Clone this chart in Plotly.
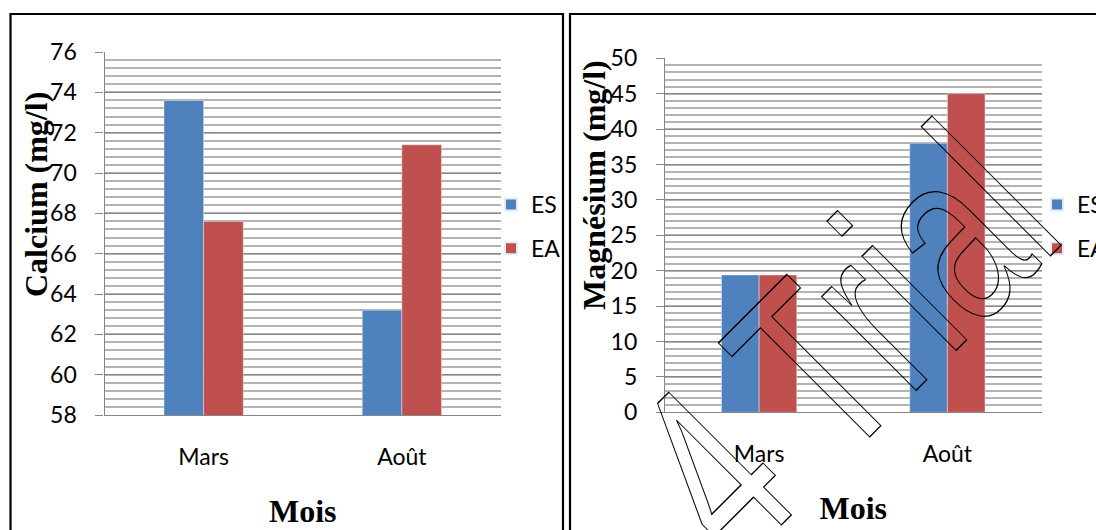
import plotly.graph_objects as go

# Monthly concentrations for the two sampling points
mois = ["Mars", "Août"]
calcium_es = [73.6, 63.2]
calcium_ea = [67.6, 71.4]
magnesium_es = [19.4, 38.0]
magnesium_ea = [19.4, 45.0]

calcium_ticks = [58, 60, 62, 64, 66, 68, 70, 72, 74, 76]
magnesium_ticks = [0, 5, 10, 15, 20, 25, 30, 35, 40, 45, 50]

BLUE = "#4F81BD"
RED = "#C0504D"
GRID_MAJOR = "#868686"
GRID_MINOR = "#b3b3b3"
TICK_FONT = dict(family="Lato", size=23, color="#000000")
TITLE_FONT = dict(family="Liberation Serif", size=32, color="#000000")

W, H = 1096, 530


def px_x(v):
    return v / W


def px_y(v):
    return 1 - v / H


fig = go.Figure()

fig.add_trace(go.Bar(x=mois, y=calcium_es, name="ES", marker_color=BLUE,
                     xaxis="x", yaxis="y", legend="legend", legendgroup="ca_es"))
fig.add_trace(go.Bar(x=mois, y=calcium_ea, name="EA", marker_color=RED,
                     xaxis="x", yaxis="y", legend="legend", legendgroup="ca_ea"))
fig.add_trace(go.Bar(x=mois, y=magnesium_es, name="ES", marker_color=BLUE,
                     xaxis="x2", yaxis="y2", legend="legend2", legendgroup="mg_es"))
fig.add_trace(go.Bar(x=mois, y=magnesium_ea, name="EA", marker_color=RED,
                     xaxis="x2", yaxis="y2", legend="legend2", legendgroup="mg_ea"))


def x_axis(domain, anchor):
    return dict(
        domain=domain, anchor=anchor, type="category", automargin=False,
        showline=True, linecolor=GRID_MAJOR, linewidth=1.3,
        ticks="", showgrid=False, zeroline=False,
        tickfont=TICK_FONT, ticklabelstandoff=21,
        title=dict(text="<b>Mois</b>", font=TITLE_FONT, standoff=30),
    )


def y_axis(domain, anchor, rng, minor_step, ticks):
    return dict(
        domain=domain, anchor=anchor, range=rng, automargin=False,
        tickvals=ticks, ticktext=[str(t) for t in ticks],
        showline=True, linecolor=GRID_MAJOR, linewidth=1.3,
        ticks="outside", ticklen=8, tickcolor=GRID_MAJOR, tickwidth=1.3,
        showgrid=True, gridcolor=GRID_MAJOR, gridwidth=1.3, zeroline=False,
        minor=dict(dtick=minor_step, tick0=rng[0], showgrid=True,
                   gridcolor=GRID_MINOR, gridwidth=1.7, ticks=""),
        tickfont=TICK_FONT, ticklabelstandoff=14,
    )


legend_common = dict(
    font=TICK_FONT, bgcolor="rgba(0,0,0,0)", borderwidth=0,
    xanchor="left", yanchor="top", tracegroupgap=11, itemsizing="constant",
)

fig.update_layout(
    width=W, height=H,
    margin=dict(l=0, r=0, t=0, b=0, autoexpand=False),
    paper_bgcolor="white", plot_bgcolor="white",
    barmode="group", bargap=0.6, bargroupgap=0,
    xaxis=x_axis([px_x(104.5), px_x(501)], "y"),
    yaxis=y_axis([px_y(415), px_y(52)], "x", [58, 76], 0.4, calcium_ticks),
    xaxis2=x_axis([px_x(665), px_x(1041.5)], "y2"),
    yaxis2=y_axis([px_y(412.3), px_y(58.3)], "x2", [0, 50], 1, magnesium_ticks),
    legend=dict(x=px_x(491), y=px_y(183), **legend_common),
    legend2=dict(x=px_x(1037), y=px_y(183), **legend_common),
    showlegend=True,
)

# Vertical axis titles
fig.add_annotation(text="<b>Calcium (mg/l)</b>", xref="paper", yref="paper",
                   x=px_x(36), y=px_y(195), textangle=-90, showarrow=False,
                   font=TITLE_FONT, xanchor="center", yanchor="middle")
fig.add_annotation(text="<b>Magnésium (mg/l)</b>", xref="paper", yref="paper",
                   x=px_x(594), y=px_y(185), textangle=-90, showarrow=False,
                   font=TITLE_FONT, xanchor="center", yanchor="middle")

# Diagonal outlined stamp across the second panel
fig.add_annotation(text="4 Trial", xref="paper", yref="paper",
                   x=px_x(842), y=px_y(340), textangle=-45, showarrow=False,
                   font=dict(family="Liberation Sans", size=252, color="#000000"),
                   xanchor="center", yanchor="middle")

# Frames around the two panels
for x0, x1 in [(10.5, 563), (570, 1110)]:
    fig.add_shape(type="rect", xref="paper", yref="paper",
                  x0=px_x(x0), x1=px_x(x1), y0=px_y(560), y1=px_y(14),
                  line=dict(color="#000000", width=2.2), fillcolor="rgba(0,0,0,0)",
                  layer="above")

stamp_js = """
var gd = document.getElementById('{plot_id}');
function outlineStamp() {
  gd.querySelectorAll('text.annotation-text').forEach(function (t) {
    if (t.textContent.indexOf('Trial') < 0) return;
    t.style.fill = 'none';
    t.style.stroke = '#000';
    t.style.strokeWidth = '1.4px';
    var b = t.getBBox();
    var cx = b.x + b.width / 2, cy = b.y + b.height / 2;
    t.setAttribute('transform', 'translate(' + cx + ',' + cy + ') scale(0.68,1) translate(' + (-cx) + ',' + (-cy) + ')');
  });
}
outlineStamp();
gd.on('plotly_afterplot', outlineStamp);
"""

fig.write_html("out.html", post_script=stamp_js)
